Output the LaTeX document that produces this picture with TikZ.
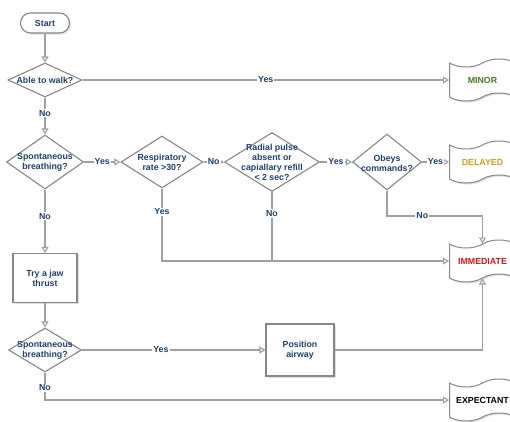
\documentclass[tikz,border=0pt]{standalone}
\usepackage{fontspec}
\setmainfont{Liberation Sans}
\usetikzlibrary{shapes.geometric,shapes.symbols,arrows.meta,shadows}
\definecolor{txtblue}{RGB}{31,64,112}
\definecolor{linegray}{RGB}{160,160,160}
\definecolor{edgegray}{RGB}{135,135,135}
\definecolor{minorgreen}{RGB}{75,120,35}
\definecolor{delayedgold}{RGB}{210,160,20}
\definecolor{immred}{RGB}{215,20,25}
\begin{document}
\begin{tikzpicture}[x=1pt,y=-1pt,
  txt/.style={font=\bfseries\fontsize{8.8}{10}\selectfont, text=txtblue, align=center},
  shad/.style={drop shadow={opacity=0.25, shadow xshift=1.5pt, shadow yshift=-1.5pt}},
  dec/.style={diamond, draw=edgegray, line width=1.1pt, fill=white, inner sep=0pt},
  proc/.style={txt, rectangle, draw=edgegray, line width=1.1pt, fill=white, inner sep=0pt, shad},
  term/.style={txt, rectangle, rounded corners=10pt, draw=edgegray, line width=1.1pt, fill=white, inner sep=0pt, shad},
  flag/.style={txt, tape, draw=edgegray, fill=white, line width=1pt, minimum width=66pt, minimum height=42pt, tape bend height=8pt, anchor=west, shad},
  conn/.style={draw=linegray, line width=1.1pt, -{Triangle[open,length=6pt,width=7pt]}},
  plain/.style={draw=linegray, line width=1.1pt},
  lab/.style={txt, fill=white, inner sep=1pt},
]
\clip (0,0) rectangle (510,421);
\fill[white] (0,0) rectangle (510,421);

% terminal
\node[term, minimum width=49pt, minimum height=20pt] (start) at (45,23) {Start};

% decisions
\node[dec, minimum width=74pt, minimum height=34pt] (d1) at (45,80) {};
\node[txt] (t1) at (d1) {Able to walk?};
\node[dec, minimum width=77pt, minimum height=54pt] (d2) at (45,162) {};
\node[txt] (t2) at (d2) {Spontaneous\\breathing?};
\node[dec, minimum width=82pt, minimum height=52pt] (d3) at (162,162) {};
\node[txt] (t3) at (d3) {Respiratory\\rate >30?};
\node[dec, minimum width=95pt, minimum height=59pt] (d4) at (272,162) {};
\node[txt] (t4) at (d4) {Radial pulse\\absent or\\capiallary refill\\< 2 sec?};
\node[dec, minimum width=69pt, minimum height=56pt] (d5) at (387,162) {};
\node[txt] (t5) at ([yshift=-1pt]d5.center) {Obeys\\commands?};
\node[dec, minimum width=73pt, minimum height=44pt] (d6) at (45,350) {};
\node[txt] (t6) at (d6) {Spontaneous\\breathing?};

% processes
\node[proc, minimum width=64pt, minimum height=49pt] (jaw) at (45,278) {Try a jaw\\thrust};
\node[proc, minimum width=68pt, minimum height=52pt] (pos) at (300,350) {Position\\airway};

% outcomes
\node[flag, text=minorgreen] (minor) at (449,80) {MINOR};
\node[flag, text=delayedgold] (delayed) at (449,162) {DELAYED};
\node[flag, text=immred] (immed) at (449,261) {IMMEDIATE};
\node[flag, text=black] (expect) at (449,400) {EXPECTANT};

% connectors
\draw[conn] (start.south) -- (d1.north);
\draw[conn] (d1.east) -- node[lab]{Yes} (minor.west);
\draw[conn] (d1.south) -- node[lab,pos=0.43]{No} (d2.north);
\draw[conn] (d2.east) -- node[lab]{Yes} (d3.west);
\draw[conn] (d3.east) -- node[lab]{No} (d4.west);
\draw[conn] (d4.east) -- node[lab]{Yes} (d5.west);
\draw[conn] (d5.east) -- node[lab]{Yes} (delayed.west);
\coordinate (c5) at (387,216);
\coordinate (c5b) at (immed.north |- c5);
\draw[conn] (d5.south) -- (c5) -- node[lab,pos=0.37]{No} (c5b) -- (immed.north);
\draw[conn] (d3.south) -- node[lab,pos=0.32]{Yes} (d3.south |- immed.west) -- (immed.west);
\draw[plain] (d4.south) -- node[lab,pos=0.31]{No} (d4.south |- immed.west);
\draw[conn] (d2.south) -- node[lab,pos=0.42]{No} (jaw.north);
\draw[conn] (jaw.south) -- (d6.north);
\draw[conn] (d6.east) -- node[lab,pos=0.43]{Yes} (pos.west);
\draw[conn] (pos.east) -- (pos.east -| immed.south) -- (immed.south);
\draw[conn] (d6.south) -- node[lab,pos=0.55]{No} (d6.south |- expect.west) -- (expect.west);
\end{tikzpicture}
\end{document}
